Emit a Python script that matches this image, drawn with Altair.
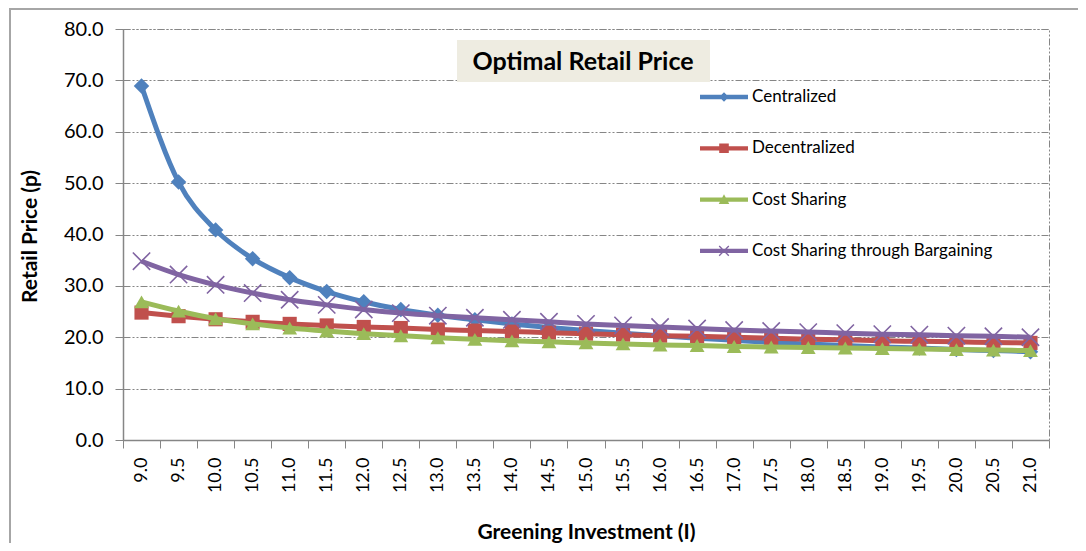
import altair as alt
import pandas as pd

investment = ["9.0", "9.5", "10.0", "10.5", "11.0", "11.5", "12.0", "12.5", "13.0",
              "13.5", "14.0", "14.5", "15.0", "15.5", "16.0", "16.5", "17.0", "17.5",
              "18.0", "18.5", "19.0", "19.5", "20.0", "20.5", "21.0"]

centralized = [68.9, 50.2, 40.9, 35.3, 31.6, 28.9, 26.9, 25.4, 24.3, 23.4, 22.6, 21.9,
               21.3, 20.8, 20.3, 19.8, 19.4, 19.0, 18.7, 18.4, 18.1, 17.9, 17.6, 17.4, 17.2]
decentralized = [24.8, 24.1, 23.5, 23.0, 22.6, 22.3, 22.0, 21.8, 21.5, 21.3, 21.1, 20.9,
                 20.7, 20.5, 20.3, 20.2, 20.0, 19.8, 19.6, 19.5, 19.3, 19.2, 19.1, 19.0, 18.9]
cost_sharing = [26.9, 25.1, 23.6, 22.6, 21.8, 21.2, 20.7, 20.3, 19.9, 19.6, 19.3, 19.1,
                18.9, 18.7, 18.5, 18.4, 18.2, 18.1, 18.0, 17.9, 17.8, 17.7, 17.6, 17.5, 17.4]
bargaining = [34.8, 32.2, 30.2, 28.6, 27.3, 26.3, 25.4, 24.7, 24.2, 23.8, 23.4, 23.0,
              22.6, 22.3, 22.0, 21.7, 21.4, 21.2, 21.0, 20.8, 20.6, 20.5, 20.3, 20.2, 20.0]

series_names = ["Centralized", "Decentralized", "Cost Sharing", "Cost Sharing through Bargaining"]
series_values = [centralized, decentralized, cost_sharing, bargaining]
series_colors = ["#4F81BD", "#C0504D", "#9BBB59", "#8064A2"]
y_ticks = [0, 10, 20, 30, 40, 50, 60, 70, 80]
chart_title = "Optimal Retail Price"

rows = []
for name, vals in zip(series_names, series_values):
    for inv, v in zip(investment, vals):
        rows.append({"investment": inv, "price": v, "series": name})
df = pd.DataFrame(rows)

FONT = "Lato"
GRID = "#868686"
DASH = [7, 2, 2, 2, 2, 2]

# legend symbols: line segment + marker, in unit coords
LINE = "M-1,-0.09L1,-0.09L1,0.09L-1,0.09Z"
sym_paths = {
    "Centralized": LINE + "M0,-0.2L0.2,0L0,0.2L-0.2,0Z",
    "Decentralized": LINE + "M-0.2,-0.2L0.2,-0.2L0.2,0.2L-0.2,0.2Z",
    "Cost Sharing": LINE + "M0,-0.22L0.22,0.18L-0.22,0.18Z",
    "Cost Sharing through Bargaining": LINE
        + "M-0.22,-0.18L-0.18,-0.22L0.22,0.18L0.18,0.22Z"
        + "M0.18,-0.22L0.22,-0.18L-0.18,0.22L-0.22,0.18Z",
}


def by_series(mapping):
    expr = ""
    for name in series_names[:-1]:
        expr += f"datum.value === '{name}' ? '{mapping[name]}' : "
    return expr + f"'{mapping[series_names[-1]]}'"


shape_expr = by_series(sym_paths)
fill_expr = by_series(dict(zip(series_names, series_colors)))

legend = alt.Legend(
    title=None, orient="none", legendX=577, legendY=44,
    symbolSize=2304, symbolStrokeWidth=0, symbolOpacity=1,
    symbolType=alt.ExprRef(expr=shape_expr),
    symbolFillColor=alt.ExprRef(expr=fill_expr),
    labelFontSize=17, labelFont=FONT, labelLimit=0,
    labelColor="#000000", labelOffset=4, rowPadding=19.3, padding=0,
)

x_enc = alt.X(
    "investment:O", sort=investment,
    scale=alt.Scale(type="band", paddingInner=0, paddingOuter=0),
    axis=alt.Axis(
        title="Greening Investment (I)", titleFont=FONT, titleFontSize=21,
        titleFontWeight="bold", titleColor="#000000", titleX=463, titleY=92,
        titleBaseline="middle", titleAlign="center",
        labelAngle=270, labelFont=FONT, labelFontSize=18, labelColor="#000000",
        labelPadding=9, tickBand="extent", tickSize=8, tickColor=GRID,
        domainColor=GRID, domainWidth=1.5, grid=False, labelOverlap=False,
    ),
)
y_enc = alt.Y(
    "price:Q", scale=alt.Scale(domain=[0, 80], nice=False),
    axis=alt.Axis(
        values=y_ticks, format=".1f", title="Retail Price (p)", titleFont=FONT,
        titleFontSize=21, titleFontWeight="bold", titleColor="#000000",
        titleX=-93, titleY=207, titleAngle=270, titleBaseline="middle",
        titleAlign="center",
        labelFont=FONT, labelFontSize=20, labelColor="#000000", labelPadding=12,
        tickSize=8, tickColor=GRID, domainColor=GRID, domainWidth=1.5,
        grid=True, gridColor=GRID, gridDash=DASH, gridWidth=1,
    ),
)
color_enc = alt.Color(
    "series:N", scale=alt.Scale(domain=series_names, range=series_colors),
    legend=legend,
)

marker_specs = {
    "Centralized": dict(shape="diamond", filled=True, size=240),
    "Decentralized": dict(shape="square", filled=True, size=200),
    "Cost Sharing": dict(shape="triangle-up", filled=True, size=220),
    "Cost Sharing through Bargaining": dict(shape="M-1,-1L1,1M-1,1L1,-1",
                                            filled=False, size=300, strokeWidth=1.6),
}

base = alt.Chart(df)
title_df = pd.DataFrame({"t": [chart_title]})

frame = alt.Chart(title_df).mark_rect(
    filled=False, stroke="#A6A6A6", strokeWidth=2
).encode(x=alt.value(-113), x2=alt.value(1000), y=alt.value(-20), y2=alt.value(600))

title_box = alt.Chart(title_df).mark_rect(color="#EEECE1").encode(
    x=alt.value(334), x2=alt.value(587), y=alt.value(11), y2=alt.value(53))
title_text = alt.Chart(title_df).mark_text(
    font=FONT, fontSize=25, fontWeight="bold", color="#000000",
    align="center", baseline="middle"
).encode(text="t:N", x=alt.value(460), y=alt.value(33))

layers = [frame, title_box, title_text]
for name in series_names:
    sub = base.transform_filter(alt.datum.series == name)
    layers.append(sub.mark_line(strokeWidth=5, interpolate="monotone").encode(
        x=x_enc, y=y_enc, color=color_enc))
    layers.append(sub.mark_point(opacity=1, **marker_specs[name]).encode(
        x=x_enc, y=y_enc, color=color_enc))

chart = alt.layer(*layers).properties(
    width=926, height=411,
    autosize=alt.AutoSizeParams(type="none"),
    padding={"left": 115, "top": 21, "right": 29, "bottom": 103},
    background="white",
).configure_view(stroke=GRID, strokeDash=DASH, strokeWidth=1)

chart.save("out.html", embed_options={"renderer": "svg", "actions": False})
